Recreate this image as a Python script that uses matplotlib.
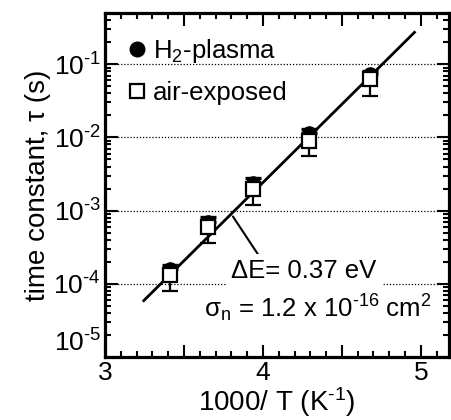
import matplotlib
matplotlib.use("Agg")
import matplotlib.pyplot as plt
from matplotlib.lines import Line2D
from matplotlib.ticker import MultipleLocator, LogLocator, FuncFormatter, NullFormatter
import numpy as np

plt.rcParams["font.family"] = ["Liberation Sans", "DejaVu Sans"]
plt.rcParams["mathtext.fontset"] = "custom"
plt.rcParams["mathtext.rm"] = "Liberation Sans"
plt.rcParams["mathtext.it"] = "Liberation Sans:italic"
plt.rcParams["mathtext.bf"] = "Liberation Sans:bold"

# data (x = 1000/T in 1/K, tau in s)
inv_t = [3.41, 3.65, 3.94, 4.29, 4.68]

tau_air = [1.3e-4, 6.0e-4, 2.0e-3, 9.0e-3, 6.3e-2]
tau_air_low = [8.0e-5, 3.6e-4, 1.2e-3, 5.5e-3, 3.7e-2]

tau_h2 = [1.6e-4, 7.0e-4, 2.4e-3, 1.15e-2, 7.3e-2]
tau_h2_high = [1.8e-4, 8.2e-4, 2.75e-3, 1.3e-2, 8.0e-2]

# Arrhenius fit, drawn between these two 1000/T values
fit_x = [3.245, 4.96]
fit_logtau = [-4.23, -0.565]

fig = plt.figure(figsize=(4.51, 4.20), dpi=100)
ax = fig.add_axes([0.233, 0.150, 0.763, 0.819])

ax.set_yscale("log")
ax.set_xlim(3, 5.18)
ax.set_ylim(1e-5, 0.5)

# grid: dotted at decades
ax.yaxis.grid(True, which="major", ls=(0, (1, 1.5)), lw=0.9, color="black")
ax.set_axisbelow(True)

# fit line
fx = np.array(fit_x)
fy = 10 ** np.array(fit_logtau)
ax.plot(fx, fy, color="black", lw=2.0, zorder=3)

# H2-plasma points (mostly hidden behind squares)
h2_err = [np.zeros(len(tau_h2)), np.array(tau_h2_high) - np.array(tau_h2)]
ax.errorbar(inv_t, tau_h2, yerr=h2_err, fmt="o", ms=9.5, color="black",
            mfc="black", mec="black", capsize=5.5, capthick=2.4, elinewidth=1.5, zorder=4)

# air-exposed points
air_err = [np.array(tau_air) - np.array(tau_air_low), np.zeros(len(tau_air))]
ax.errorbar(inv_t, tau_air, yerr=air_err, fmt="s", ms=9.5, color="black",
            mfc="white", mec="black", mew=1.6, capsize=5.5, capthick=2.4,
            elinewidth=1.6, zorder=5)

# annotation
ax.annotate("", xy=(3.81, 8.3e-4), xytext=(3.97, 2.5e-4),
            arrowprops=dict(arrowstyle="-", color="black", lw=1.5, shrinkA=0, shrinkB=0),
            zorder=3)
ax.text(4.26, 10 ** -3.83, "\u0394E= 0.37 eV", fontsize=18.5, ha="center", va="center",
        bbox=dict(facecolor="white", edgecolor="none", pad=4), zorder=6)
ax.text(4.35, 10 ** -4.34,
        "\u03c3$_\\mathregular{n}$ = 1.2 x 10$^\\mathregular{\\text{-}16}$ cm$^\\mathregular{2}$",
        fontsize=18.5, ha="center", va="center", zorder=6)

# legend
handles = [
    Line2D([], [], ls="none", marker="o", ms=10.5, mfc="black", mec="black"),
    Line2D([], [], ls="none", marker="s", ms=10.5, mfc="white", mec="black", mew=1.6),
]
ax.legend(handles, ["H$_\\mathregular{2}$-plasma", "air-exposed"], loc="upper left",
          frameon=False, fontsize=18.5, handlelength=0.7, handletextpad=0.27,
          labelspacing=0.62, borderaxespad=0.0, bbox_to_anchor=(0.038, 0.96))

# ticks
ax.xaxis.set_major_locator(MultipleLocator(0.5))
ax.xaxis.set_minor_locator(MultipleLocator(0.1))
ax.xaxis.set_major_formatter(FuncFormatter(lambda v, p: f"{v:.0f}" if abs(v - round(v)) < 1e-6 else ""))
ax.yaxis.set_major_locator(LogLocator(base=10, numticks=10))
ax.yaxis.set_minor_locator(LogLocator(base=10, subs=np.arange(2, 10), numticks=10))
ax.yaxis.set_minor_formatter(NullFormatter())
ax.yaxis.set_major_formatter(FuncFormatter(
    lambda v, p: "$\\mathregular{10^{\\text{-}%d}}$" % abs(int(round(np.log10(v))))))

ax.tick_params(which="both", direction="in", top=True, right=True, width=1.5, labelsize=19)
ax.tick_params(which="major", length=9)
ax.tick_params(which="minor", length=4.5)
ax.tick_params(axis="x", pad=3)
ax.tick_params(axis="y", pad=3)

for sp in ax.spines.values():
    sp.set_linewidth(2.3)

ax.set_xlabel("1000/ T (K$^\\mathregular{\\text{-}1}$)", fontsize=20, labelpad=0)
ax.set_ylabel("time constant, \u03c4 (s)", fontsize=20, labelpad=2)

# lift the bottom y label off the x-axis "3", as in the original
fig.canvas.draw()
for tick, loc in zip(ax.yaxis.get_major_ticks(), ax.get_yticks()):
    if np.isclose(loc, ax.get_ylim()[0]):
        tick.label1.set_verticalalignment("bottom")

fig.savefig("out.png", dpi=100)
